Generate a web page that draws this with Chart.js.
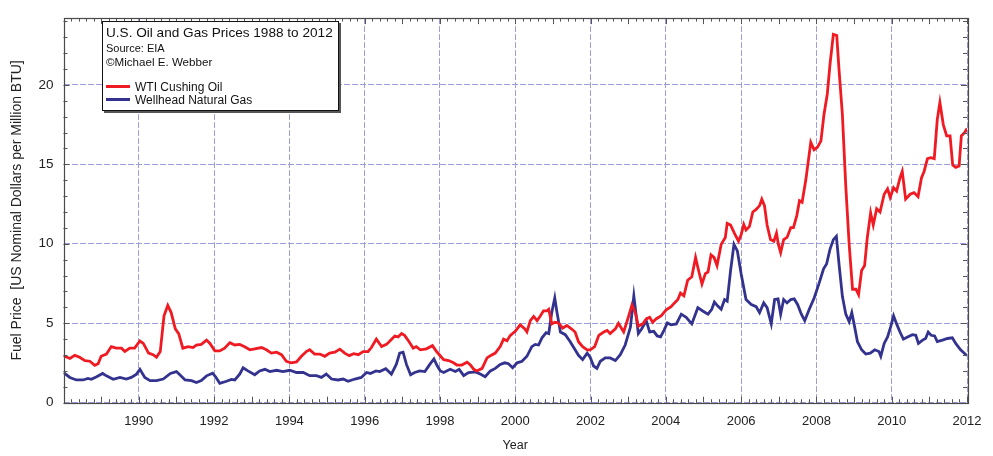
<!DOCTYPE html>
<html>
<head>
<meta charset="utf-8">
<script src="https://cdn.jsdelivr.net/npm/chart.js@4.4.0/dist/chart.umd.min.js"></script>
<style>
html,body{margin:0;padding:0;background:#fff;}
#wrap{position:relative;width:993px;height:456px;}
#legendBox{position:absolute;left:102px;top:21px;width:235px;height:88px;border:1px solid #111;box-shadow:2px 2px 0 #555;background:#fff;font-family:"Liberation Sans",Arial,sans-serif;color:#111;}
#legendBox div{position:absolute;left:3px;white-space:nowrap;}
.sw{display:inline-block;width:24px;height:3px;vertical-align:middle;margin-right:5px;position:relative;top:-1px;}
</style>
</head>
<body>
<div id="wrap">
<canvas id="c" width="993" height="456"></canvas>
<div id="legendBox">
  <div id="lt" style="top:3px;font-size:13.6px;line-height:16px;"></div>
  <div id="ls" style="top:19px;font-size:11px;line-height:14px;"></div>
  <div id="lc" style="top:33px;font-size:11.6px;line-height:14px;"></div>
  <div id="l1" style="top:58px;font-size:12px;line-height:14px;"></div>
  <div id="l2" style="top:71px;font-size:12px;line-height:14px;"></div>
</div>
</div>
<script>
// ---- data ----
const oilYears = [1988.00,1988.17,1988.30,1988.43,1988.57,1988.70,1988.83,1988.92,1989.00,1989.14,1989.27,1989.40,1989.54,1989.63,1989.76,1989.89,1990.03,1990.12,1990.26,1990.38,1990.47,1990.57,1990.67,1990.77,1990.86,1990.97,1991.06,1991.17,1991.31,1991.44,1991.53,1991.66,1991.80,1991.89,1992.02,1992.15,1992.28,1992.42,1992.55,1992.68,1992.80,1992.95,1993.08,1993.26,1993.39,1993.52,1993.66,1993.79,1993.92,1994.05,1994.19,1994.32,1994.45,1994.54,1994.67,1994.81,1994.94,1995.07,1995.21,1995.34,1995.47,1995.59,1995.71,1995.83,1995.96,1996.09,1996.18,1996.31,1996.45,1996.58,1996.67,1996.80,1996.89,1996.98,1997.06,1997.18,1997.29,1997.37,1997.48,1997.64,1997.80,1997.91,1998.04,1998.10,1998.23,1998.36,1998.45,1998.58,1998.72,1998.81,1998.90,1998.98,1999.12,1999.25,1999.34,1999.47,1999.60,1999.69,1999.78,1999.87,2000.00,2000.13,2000.25,2000.31,2000.40,2000.49,2000.58,2000.67,2000.75,2000.84,2000.89,2000.97,2001.06,2001.15,2001.26,2001.37,2001.49,2001.59,2001.68,2001.79,2001.91,2001.99,2002.11,2002.22,2002.35,2002.44,2002.52,2002.66,2002.74,2002.88,2002.99,2003.10,2003.19,2003.27,2003.39,2003.48,2003.57,2003.65,2003.74,2003.88,2004.01,2004.14,2004.23,2004.32,2004.39,2004.48,2004.58,2004.69,2004.79,2004.87,2004.96,2005.05,2005.12,2005.20,2005.28,2005.36,2005.47,2005.58,2005.63,2005.72,2005.82,2005.93,2006.00,2006.07,2006.13,2006.22,2006.31,2006.40,2006.49,2006.55,2006.62,2006.69,2006.78,2006.87,2006.94,2006.99,2007.05,2007.13,2007.22,2007.32,2007.39,2007.48,2007.55,2007.62,2007.72,2007.85,2007.94,2008.03,2008.12,2008.20,2008.29,2008.36,2008.45,2008.54,2008.60,2008.69,2008.78,2008.87,2008.96,2009.05,2009.12,2009.20,2009.28,2009.35,2009.44,2009.51,2009.60,2009.69,2009.80,2009.89,2009.96,2010.05,2010.13,2010.22,2010.28,2010.37,2010.49,2010.59,2010.70,2010.79,2010.86,2010.95,2011.04,2011.13,2011.21,2011.28,2011.37,2011.46,2011.55,2011.62,2011.70,2011.79,2011.85,2011.94,2012.00];
const oilPrices = [2.96,2.78,2.98,2.86,2.65,2.61,2.35,2.45,2.92,3.06,3.53,3.43,3.43,3.22,3.43,3.43,3.88,3.73,3.12,3.02,2.86,3.22,5.47,6.12,5.67,4.65,4.35,3.43,3.53,3.47,3.63,3.67,3.94,3.73,3.26,3.26,3.43,3.78,3.63,3.67,3.53,3.33,3.39,3.47,3.33,3.12,3.18,3.02,2.61,2.51,2.57,2.92,3.22,3.33,3.06,3.06,2.92,3.12,3.18,3.37,3.12,2.96,3.08,3.02,3.22,3.22,3.47,4.00,3.53,3.67,3.88,4.20,4.14,4.35,4.24,3.84,3.43,3.53,3.33,3.39,3.59,3.22,2.86,2.71,2.65,2.51,2.37,2.37,2.55,2.37,2.10,2.00,2.16,2.82,2.96,3.12,3.53,4.00,3.90,4.24,4.49,4.90,4.65,4.45,5.16,5.43,5.16,5.47,5.78,5.78,5.88,4.96,5.06,5.02,4.69,4.86,4.65,4.45,3.84,3.53,3.33,3.33,3.53,4.24,4.45,4.55,4.35,4.65,5.00,4.45,5.27,6.15,5.67,4.82,4.96,5.27,5.37,5.06,5.27,5.47,5.84,6.04,6.28,6.49,6.90,6.73,7.71,7.92,9.14,8.32,7.47,8.12,8.22,9.30,9.14,8.63,9.96,10.40,11.28,11.18,10.67,10.16,10.57,11.22,10.87,11.08,12.00,12.16,12.40,12.81,12.40,11.18,10.26,10.16,10.67,9.96,9.45,10.26,10.40,11.02,11.02,11.79,12.71,12.61,14.04,16.38,15.91,16.08,16.48,18.12,19.44,21.28,23.18,23.11,20.97,18.12,13.63,9.96,7.14,7.14,6.80,8.32,8.63,10.36,11.95,11.18,12.20,12.00,13.12,13.46,12.91,13.53,13.32,14.14,14.55,12.81,13.12,13.22,12.97,14.14,14.55,15.36,15.42,15.36,17.81,18.89,17.50,16.79,16.79,14.95,14.81,14.89,16.79,17.00,17.25];

const gasYears = [1988.00,1988.17,1988.34,1988.52,1988.65,1988.74,1988.88,1989.04,1989.14,1989.32,1989.50,1989.67,1989.80,1989.94,1990.03,1990.16,1990.30,1990.47,1990.65,1990.84,1991.00,1991.09,1991.23,1991.40,1991.53,1991.66,1991.80,1991.96,1992.04,1992.15,1992.33,1992.46,1992.55,1992.68,1992.77,1992.90,1993.08,1993.21,1993.35,1993.48,1993.66,1993.83,1994.01,1994.19,1994.37,1994.54,1994.72,1994.85,1994.98,1995.12,1995.29,1995.43,1995.56,1995.74,1995.91,1996.05,1996.15,1996.30,1996.40,1996.56,1996.71,1996.84,1996.93,1997.02,1997.11,1997.22,1997.33,1997.46,1997.60,1997.73,1997.84,1997.93,1998.01,1998.10,1998.27,1998.41,1998.51,1998.63,1998.76,1998.94,1999.07,1999.20,1999.34,1999.47,1999.60,1999.72,1999.82,1999.93,2000.05,2000.18,2000.31,2000.44,2000.53,2000.62,2000.71,2000.82,2000.89,2000.97,2001.05,2001.11,2001.20,2001.33,2001.46,2001.59,2001.68,2001.79,2001.91,2001.99,2002.08,2002.17,2002.26,2002.39,2002.52,2002.66,2002.79,2002.92,2003.06,2003.15,2003.27,2003.36,2003.48,2003.57,2003.68,2003.77,2003.86,2003.95,2004.04,2004.14,2004.28,2004.41,2004.54,2004.69,2004.85,2004.98,2005.12,2005.22,2005.29,2005.38,2005.47,2005.56,2005.63,2005.72,2005.81,2005.90,2006.00,2006.13,2006.27,2006.40,2006.49,2006.60,2006.69,2006.80,2006.89,2006.98,2007.05,2007.13,2007.22,2007.32,2007.41,2007.50,2007.60,2007.69,2007.81,2007.94,2008.07,2008.19,2008.27,2008.36,2008.45,2008.53,2008.60,2008.69,2008.78,2008.87,2008.94,2009.00,2009.09,2009.20,2009.31,2009.43,2009.55,2009.66,2009.71,2009.80,2009.89,2009.97,2010.05,2010.13,2010.22,2010.31,2010.42,2010.55,2010.64,2010.71,2010.82,2010.90,2010.97,2011.05,2011.14,2011.21,2011.35,2011.48,2011.61,2011.70,2011.83,2011.97,2012.00];
const gasPrices = [1.90,1.59,1.43,1.43,1.53,1.47,1.63,1.84,1.69,1.47,1.59,1.49,1.59,1.80,2.10,1.59,1.39,1.39,1.49,1.84,1.96,1.76,1.43,1.39,1.27,1.39,1.69,1.86,1.63,1.22,1.35,1.47,1.43,1.80,2.20,2.00,1.76,2.00,2.10,1.96,2.04,1.96,2.04,1.90,1.90,1.70,1.70,1.59,1.80,1.49,1.43,1.49,1.35,1.49,1.59,1.90,1.84,2.00,1.96,2.14,1.80,2.41,3.12,3.18,2.41,1.76,1.90,2.00,1.96,2.41,2.76,2.31,2.00,1.90,2.10,1.96,2.10,1.70,1.90,1.94,1.80,1.63,2.00,2.16,2.41,2.51,2.45,2.20,2.51,2.61,2.92,3.53,3.67,3.63,4.08,4.41,4.35,5.67,6.59,5.67,4.45,4.28,3.84,3.33,2.98,2.71,3.12,2.86,2.31,2.16,2.61,2.82,2.82,2.65,3.02,3.63,4.76,6.72,4.35,4.65,5.16,4.45,4.49,4.20,4.14,4.55,5.02,4.90,4.96,5.57,5.37,4.96,5.98,5.77,5.57,5.88,6.33,6.08,5.88,6.49,6.39,8.32,9.96,9.55,8.12,6.49,6.18,6.04,5.67,6.28,5.98,4.96,6.49,6.53,5.57,6.49,6.28,6.49,6.53,6.18,5.57,5.16,5.88,6.59,7.51,8.43,8.73,9.65,10.26,10.47,8.73,6.69,5.57,5.10,5.67,4.96,3.84,3.33,3.06,3.12,3.33,3.22,2.92,3.73,4.14,4.76,5.47,4.96,4.45,4.00,4.14,4.28,4.24,3.73,3.94,4.04,4.45,4.24,4.20,3.84,3.94,4.04,4.08,3.73,3.33,3.02,2.98];

const xTickYears = [1990,1992,1994,1996,1998,2000,2002,2004,2006,2008,2010,2012];
const yTickValues = [0,5,10,15,20];
const seriesNames = ['WTI Cushing Oil','Wellhead Natural Gas'];
const seriesColors = ['#f01a22','#33338f'];
const chartTitle = 'U.S. Oil and Gas Prices 1988 to 2012';
const sourceText = 'Source: EIA';
const creditText = '\u00A9Michael E. Webber';
const xTitle = 'Year';
const yTitle = 'Fuel Price  [US Nominal Dollars per Million BTU]';

// ---- legend box (HTML text) ----
document.getElementById('lt').textContent = chartTitle;
document.getElementById('ls').textContent = sourceText;
document.getElementById('lc').textContent = creditText;
['l1','l2'].forEach((id,i)=>{
  const el = document.getElementById(id);
  const sw = document.createElement('span');
  sw.className='sw'; sw.style.background = seriesColors[i];
  el.appendChild(sw);
  el.appendChild(document.createTextNode(seriesNames[i]));
});

const FONT = '"Liberation Sans", Arial, sans-serif';

const frameAndTicks = {
  id:'frameAndTicks',
  afterDatasetsDraw(chart){
    const {ctx, chartArea:a, scales:{x, y}} = chart;
    ctx.save();
    ctx.strokeStyle = '#555';
    ctx.lineWidth = 1;
    ctx.beginPath();
    // minor x ticks every 0.2 year, top and bottom, inward
    for (let i = 0; i <= 120; i++) {
      const v = 1988 + i * 0.2;
      const px = Math.round(x.getPixelForValue(v)) + 0.5;
      const len = (i % 5 === 0) ? 6 : 3.5;
      ctx.moveTo(px, a.bottom); ctx.lineTo(px, a.bottom - len);
      ctx.moveTo(px, a.top); ctx.lineTo(px, a.top + len);
    }
    // minor y ticks every 1 unit, left and right, inward
    for (let v = 0; v <= 24; v++) {
      const py = Math.round(y.getPixelForValue(v)) + 0.5;
      const len = (v % 5 === 0) ? 6 : 4;
      ctx.moveTo(a.left, py); ctx.lineTo(a.left + len, py);
      ctx.moveTo(a.right, py); ctx.lineTo(a.right - len, py);
    }
    ctx.stroke();
    ctx.strokeStyle = '#4a4a4a';
    ctx.lineWidth = 1.2;
    ctx.strokeRect(Math.round(a.left)+0.5, Math.round(a.top)+0.5, Math.round(a.right - a.left), Math.round(a.bottom - a.top));
    ctx.restore();
  }
};

const ctx = document.getElementById('c').getContext('2d');
new Chart(ctx, {
  type: 'line',
  data: {
    datasets: [
      { label: seriesNames[0], data: oilYears.map((v,i)=>({x:v, y:oilPrices[i]})),
        borderColor: seriesColors[0], borderWidth: 2.8, pointRadius: 0, tension: 0, fill: false, order: 1 },
      { label: seriesNames[1], data: gasYears.map((v,i)=>({x:v, y:gasPrices[i]})),
        borderColor: seriesColors[1], borderWidth: 2.8, pointRadius: 0, tension: 0, fill: false, order: 2 }
    ]
  },
  options: {
    responsive: false,
    animation: false,
    devicePixelRatio: 1,
    layout: { padding: { left: 0, right: 26, top: 7, bottom: 0 } },
    plugins: { legend: { display: false }, tooltip: { enabled: false }, title: { display: false } },
    scales: {
      x: {
        type: 'linear', min: 1988, max: 2012,
        afterBuildTicks: s => { s.ticks = xTickYears.map(v => ({ value: v })); },
        afterFit: s => { s.height = 53.3; },
        grid: { color: '#9e9edc', lineWidth: 1, drawTicks: false },
        border: { display: false, dash: [6, 2] },
        ticks: { color: '#222', font: { family: FONT, size: 13 }, padding: 10.5, maxRotation: 0, autoSkip: false,
                 callback: v => String(v) },
        title: { display: true, text: xTitle, color: '#222', font: { family: FONT, size: 12.5 }, padding: { top: 0, bottom: 2.5 } }
      },
      y: {
        type: 'linear', min: 0, max: 24.2,
        afterBuildTicks: s => { s.ticks = yTickValues.map(v => ({ value: v })); },
        afterFit: s => { s.width = 63.5; },
        grid: { color: '#9e9edc', lineWidth: 1, drawTicks: false },
        border: { display: false, dash: [6, 2] },
        ticks: { color: '#222', font: { family: FONT, size: 13.5 }, padding: 10, callback: v => String(v) },
        title: { display: true, text: yTitle, color: '#222', font: { family: FONT, size: 14 }, padding: { top: 8.6, bottom: 0 } }
      }
    }
  },
  plugins: [frameAndTicks]
});
</script>
</body>
</html>
